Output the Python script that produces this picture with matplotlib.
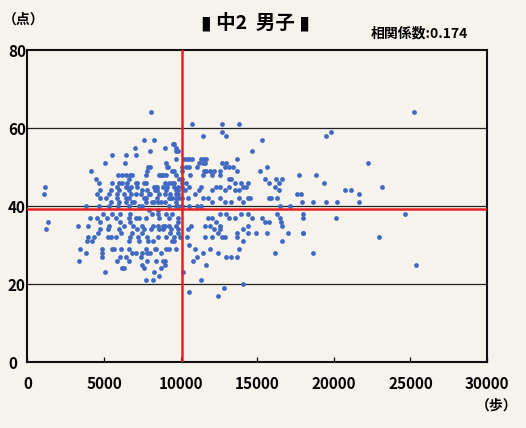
import numpy as np
import matplotlib
matplotlib.use("Agg")
from matplotlib import pyplot as plt

plt.rcParams['font.family'] = ['Liberation Sans Narrow', 'Noto Sans CJK JP', 'DejaVu Sans']

# 中2 男子: 1日の歩数 (steps) と 体力合計点 (score)
# values, grouped by score
steps = [
    8100, 25250,
    10770, 12670, 13840,
    12670, 19790,
    11430, 12990, 19520,
    7640, 8290, 15280,
    9600, 9500,
    7050, 8950, 9730,
    8030, 9730, 9800, 14630,
    5550, 6460, 7120,
    9730, 10250, 10450, 10580, 10770, 11360, 11560, 11690, 13650,
    5090, 6400, 9080, 11430, 11620, 11170, 12730, 12990, 22200,
    7900, 9210, 10120, 10380, 10580, 11100, 12930, 13130, 13390, 8030, 9140, 15610,
    4180, 9470, 10120, 11560, 11690, 12210, 11950, 12600, 13710, 15150, 7840, 9600,
    7710, 6730, 5940, 6200, 6460, 8750, 9080, 10640, 9730, 11430, 12020, 12540, 6860, 8620, 8820, 17700, 18810,
    4510, 6660, 10120, 13130, 13320, 15480, 16650, 9920, 16200,
    5550, 6010, 7120, 7770, 9010, 9270, 9600, 10120, 10380, 13520, 13910, 14430, 15740, 16390, 4700, 6200, 6530, 7180, 7640, 9470, 19390,
    8420, 1180, 6460, 9600, 10120, 10580, 14300, 14040, 13130, 12540, 12340, 11360, 16130, 8290, 8490, 5880, 6530, 6790, 7180, 8820, 9140, 9800, 23120,
    4770, 5490, 6010, 6660, 7510, 8360, 9080, 9730, 10320, 13840, 13520, 12930, 12080, 11170, 16390, 7840, 8490, 9800, 20700, 21090,
    1110, 8030, 8620, 9340, 9800, 10970, 17570, 17830, 21610, 4570, 5360, 5880, 6330, 6790, 7120, 7440, 7970, 8950, 9730,
    4770, 5160, 5880, 6460, 6660, 7640, 9470, 10120, 10510, 9270, 9730, 11430, 11820, 12540, 13780, 14370, 14560, 15740, 15870, 16260, 7770, 8490, 9400, 9920,
    6990, 8160, 8550, 8950, 12080, 12930, 13320, 14040, 21610, 20180, 19520, 18610, 17890, 5490, 6010, 6460, 6860, 7770, 8290, 8750, 9730,
    3850, 4700, 5350, 5940, 6660, 7510, 9270, 9860, 9730, 10120, 10580, 11040, 11360, 17110, 16460, 7310, 10060,
    7970, 8550,
    4960, 5550, 6070, 6730, 8160, 8550, 9080, 9470, 16260, 14430, 13910, 12990, 12540, 17960, 24620,
    4110, 4570, 7310, 7770, 16460, 15280, 14690, 13580, 13190, 12020, 11820, 18020, 20110, 5220, 5810, 6660, 7120, 8620, 9270, 9800,
    1370, 4770, 6070, 6730, 9860, 15740, 15480, 12340, 16520,
    3330, 3980, 5350, 6920, 7510, 8230, 8550, 8820, 9270, 11620, 11950, 12540, 10710, 14430, 16650, 6330, 8950, 9730,
    1240, 5290, 8100, 8820, 9860, 12210, 12540, 10510, 14040, 4770, 6010, 7180, 7640, 8620, 9400,
    4640, 6140, 6860, 7510, 9340, 12470, 9860, 13650, 14430, 14950, 15670, 17040, 17960, 18020,
    3980, 4380, 5290, 5810, 6730, 7250, 8550, 9080, 12930, 12730, 12080, 11620, 10450, 9600, 13650, 5490, 7840, 9930, 22920,
    7900, 9600, 14040, 16650, 3920, 4240, 6660, 7310, 8230, 9470,
    10580,
    3460, 4900, 5550, 6140, 6660, 7710, 8420, 9080, 9730, 10970, 11950, 13780, 5680, 8300, 9270,
    7120, 3850, 6860, 7510, 8030, 11430, 12470, 16130, 18610, 4900, 7840, 8750,
    4900, 6070, 6460, 11100, 12990, 13320, 13650, 7440,
    3400, 8420, 8950, 10840, 5880, 6660, 7840, 8820,
    8950, 7510, 11690, 25340,
    6330, 6200, 7640, 8750,
    5090, 8290, 10150,
    8620,
    7710, 8230, 11300,
    14040,
    12860,
    10580,
    12470,
]
scores = (
    [64] * 2 + [61] * 3 + [59] * 2 + [58] * 3 + [57] * 3 + [56] * 2 + [55] * 3
    + [54] * 4 + [53] * 3 + [52] * 9 + [51] * 9 + [50] * 12 + [49] * 12
    + [48] * 17 + [47] * 9 + [46] * 21 + [45] * 23 + [44] * 20 + [43] * 19
    + [42] * 24 + [41] * 21 + [40] * 17 + [39] * 2 + [38] * 15 + [37] * 20
    + [36] * 9 + [35] * 18 + [34] * 15 + [33] * 14 + [32] * 19 + [31] * 10
    + [30] * 1 + [29] * 15 + [28] * 12 + [27] * 8 + [26] * 8 + [25] * 4
    + [24] * 4 + [23] * 3 + [22] * 1 + [21] * 3 + [20] * 1 + [19] * 1
    + [18] * 1 + [17] * 1
)
assert len(steps) == len(scores), (len(steps), len(scores))

mean_steps = 10100
mean_score = 39.3
corr_text = "相関係数:0.174"

x_ticks = [0, 5000, 10000, 15000, 20000, 25000, 30000]
y_ticks = [0, 20, 40, 60, 80]

paper = '#f5f3ec'
fig = plt.figure(figsize=(5.26, 4.28), dpi=100, facecolor=paper)
ax = fig.add_axes([0.052, 0.154, 0.874, 0.729], facecolor=paper)

for y in [20, 40, 60]:
    ax.axhline(y, color='#222222', lw=0.9, zorder=1)
ax.scatter(steps, scores, s=12, color='#4069c4', linewidths=0, zorder=3)
ax.axvline(mean_steps, color='#e62222', lw=1.8, zorder=4)
ax.axhline(mean_score, color='#e62222', lw=1.8, zorder=4)

ax.set_xlim(0, 30000)
ax.set_ylim(0, 80)
ax.set_xticks(x_ticks)
ax.set_xticklabels([str(v) for v in x_ticks], fontsize=11, fontweight='bold')
ax.set_yticks(y_ticks)
ax.set_yticklabels([str(v) for v in y_ticks], fontsize=11, fontweight='bold')
for lab in ax.get_yticklabels():
    lab.set_horizontalalignment('left')
ax.tick_params(axis='y', length=0, pad=14)
ax.tick_params(axis='x', direction='in', length=3.5, width=0.9, pad=10)
for sp in ax.spines.values():
    sp.set_linewidth(1.5)
    sp.set_color('#111111')

fig.text(0.485, 0.948, "▮ 中2  男子 ▮", ha='center', va='center', fontsize=14,
         fontweight='bold', family=['Noto Sans CJK JP', 'DejaVu Sans'])
fig.text(0.705, 0.922, corr_text, ha='left', va='center', fontsize=10,
         fontweight='bold', family=['Noto Sans CJK JP', 'DejaVu Sans'])
fig.text(0.005, 0.955, "（点）", ha='left', va='center', fontsize=10,
         fontweight='bold', family=['Noto Sans CJK JP', 'DejaVu Sans'])
fig.text(0.905, 0.052, "（歩）", ha='left', va='center', fontsize=10,
         fontweight='bold', family=['Noto Sans CJK JP', 'DejaVu Sans'])

fig.savefig('out.png', dpi=100, facecolor=paper)
